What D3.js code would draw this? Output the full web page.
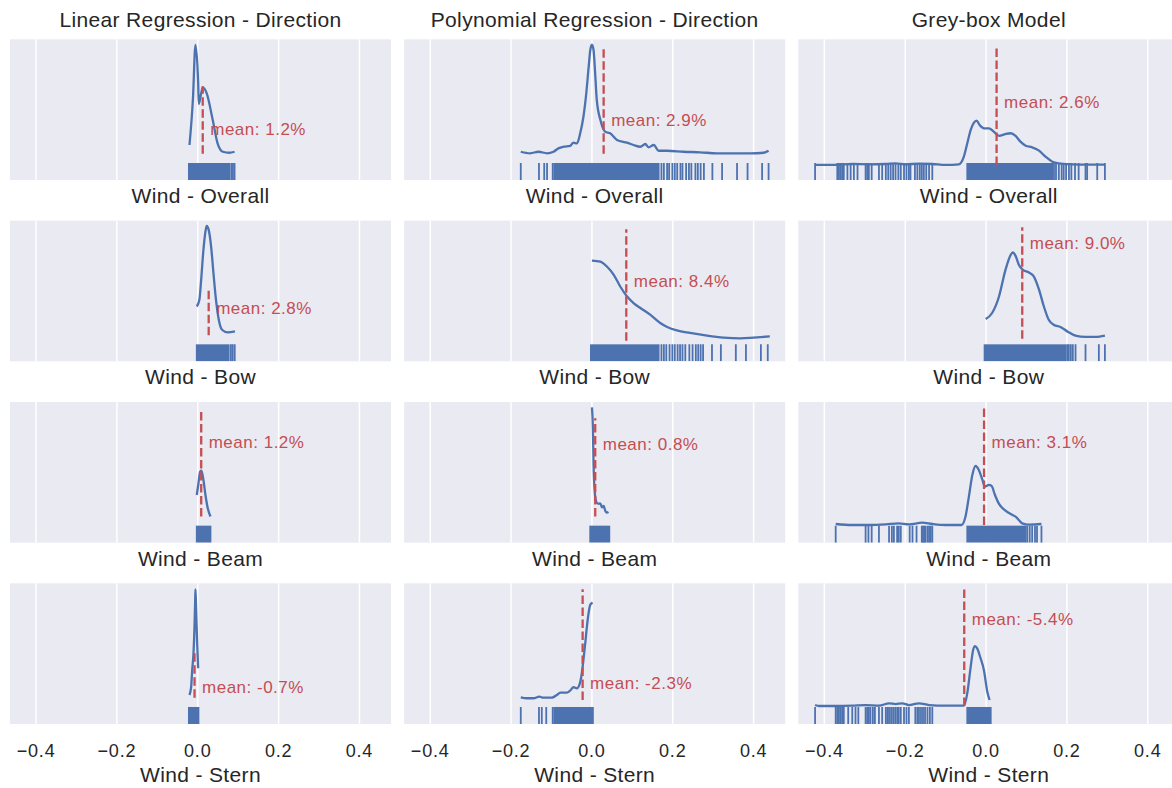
<!DOCTYPE html>
<html>
<head>
<meta charset="utf-8">
<script src="https://cdn.jsdelivr.net/npm/d3@7"></script>
<style>
body { margin: 0; background: #fff; }
text { font-family: Arial, "Liberation Sans", sans-serif; fill: #262626; }
</style>
</head>
<body>
<div id="chart"></div>
<script>
var svgWidth = 1172;
var svgHeight = 788;

var columnTitles = ["Linear Regression - Direction", "Polynomial Regression - Direction", "Grey-box Model"];
var rowLabels = ["Wind - Overall", "Wind - Bow", "Wind - Beam", "Wind - Stern"];
var tickValues = [-0.4, -0.2, 0, 0.2, 0.4];
var tickLabels = ["\u22120.4", "\u22120.2", "0.0", "0.2", "0.4"];
var xDomain = [-0.4645, 0.478];

// panels in row order: linear, polynomial, grey-box
var meanPos = [0.0123, 0.029, 0.026, 0.027, 0.085, 0.0895, 0.0085, 0.0082, -0.005, -0.008, -0.023, -0.054];
var meanTop = [0.62, 0.98, 1.10, 0.41, 1.025, 1.025, 0.99, 0.90, 1.07, 0.408, 1.016, 1.07];
var meanLabels = ["mean: 1.2%", "mean: 2.9%", "mean: 2.6%", "mean: 2.8%", "mean: 8.4%", "mean: 9.0%",
	"mean: 1.2%", "mean: 0.8%", "mean: 3.1%", "mean: -0.7%", "mean: -2.3%", "mean: -5.4%"];
var meanTextY = [0.23, 0.31, 0.58, 0.25, 0.553, 0.883, 0.686, 0.67, 0.764, 0.10, 0.159, 0.795];
var yLow = [-0.24, -0.24, -0.138, -0.24, -0.19, -0.208, -0.24, -0.24, -0.162, -0.24, -0.22, -0.165];
var yHigh = [1.05, 1.05, 1.153, 1.053, 1.104, 1.085, 1.05, 1.05, 1.128, 1.05, 1.07, 1.126];

// kde curves [error, density]
var kdeLinOverall = [[-0.0205,0.081],[-0.012,0.5],[-0.0057,0.998],[0.001,0.647],[0.0025,0.457],[0.0123,0.61],[0.0222,0.555],[0.037,0.31],[0.049,0.096],[0.062,0.019],[0.078,0.01],[0.091,0.019]];
var kdePolyOverall = [[-0.176,0.019],[-0.153,0.005],[-0.132,0.019],[-0.111,0.005],[-0.095,0.019],[-0.083,0.05],[-0.070,0.065],[-0.054,0.072],[-0.046,0.102],[-0.037,0.096],[-0.029,0.188],[-0.021,0.34],[-0.014,0.555],[-0.008,0.80],[-0.004,0.952],[0.0,1.0],[0.004,0.952],[0.008,0.738],[0.012,0.494],[0.021,0.31],[0.033,0.203],[0.045,0.188],[0.062,0.127],[0.087,0.102],[0.103,0.081],[0.120,0.065],[0.132,0.09],[0.140,0.06],[0.153,0.081],[0.165,0.028],[0.186,0.028],[0.227,0.019],[0.268,0.014],[0.309,0.005],[0.351,0.005],[0.392,0.005],[0.425,0.01],[0.437,0.028]];
var kdeGreyOverall = [[-0.423,0],[-0.372,0],[-0.331,0.009],[-0.29,0.006],[-0.248,0.009],[-0.224,0.015],[-0.199,0.006],[-0.166,0.012],[-0.133,0.009],[-0.100,0],[-0.067,0.006],[-0.055,0.076],[-0.0465,0.199],[-0.038,0.321],[-0.030,0.388],[-0.0235,0.407],[-0.016,0.367],[-0.005,0.336],[0.007,0.336],[0.019,0.306],[0.032,0.266],[0.048,0.284],[0.061,0.291],[0.073,0.266],[0.085,0.214],[0.098,0.177],[0.114,0.162],[0.131,0.131],[0.147,0.076],[0.164,0.030],[0.180,0.015],[0.213,0.006],[0.246,0.003],[0.294,0.003]];
var kdeLinBow = [[-0.0025,0.264],[0.004,0.326],[0.0084,0.509],[0.014,0.784],[0.019,0.952],[0.022,1.005],[0.027,0.968],[0.033,0.815],[0.0388,0.571],[0.045,0.326],[0.052,0.142],[0.060,0.05],[0.074,0.026],[0.092,0.035]];
var kdePolyBow = [[0.0,0.737],[0.021,0.728],[0.037,0.682],[0.054,0.606],[0.070,0.498],[0.087,0.406],[0.103,0.346],[0.120,0.300],[0.144,0.239],[0.169,0.162],[0.186,0.126],[0.210,0.094],[0.243,0.071],[0.285,0.046],[0.326,0.028],[0.367,0.021],[0.400,0.028],[0.440,0.039]];
var kdeGreyBow = [[-0.001,0.181],[0.015,0.236],[0.032,0.388],[0.048,0.633],[0.061,0.771],[0.066,0.792],[0.073,0.761],[0.081,0.679],[0.091,0.633],[0.106,0.608],[0.118,0.572],[0.131,0.450],[0.143,0.296],[0.155,0.174],[0.168,0.126],[0.184,0.107],[0.201,0.067],[0.221,0.028],[0.246,0.016],[0.271,0.016],[0.294,0.028]];
var kdeLinBeam = [[-0.0025,0.197],[0.0017,0.305],[0.0059,0.411],[0.0091,0.42],[0.014,0.335],[0.019,0.197],[0.0247,0.075],[0.0314,0.0]];
var kdePolyBeam = [[0.0,1.0],[0.0025,0.794],[0.004,0.488],[0.0066,0.243],[0.0107,0.136],[0.0165,0.115],[0.0206,0.121],[0.0247,0.084],[0.029,0.096],[0.033,0.053],[0.037,0.035],[0.041,0.041]];
var kdeGreyBeam = [[-0.372,0.009],[-0.331,0],[-0.29,0],[-0.248,0.006],[-0.216,0.015],[-0.191,0.006],[-0.158,0.021],[-0.133,0.009],[-0.100,0],[-0.061,0],[-0.051,0.076],[-0.0425,0.26],[-0.034,0.459],[-0.026,0.541],[-0.018,0.505],[-0.009,0.413],[-0.003,0.351],[0.007,0.367],[0.0136,0.358],[0.022,0.275],[0.032,0.193],[0.048,0.131],[0.065,0.092],[0.073,0.076],[0.081,0.046],[0.0895,0.015],[0.106,0.003],[0.137,0.009]];
var kdeLinStern = [[-0.0205,0.026],[-0.0163,0.102],[-0.0138,0.255],[-0.0106,0.408],[-0.0081,0.652],[-0.0064,0.897],[-0.0057,0.995],[-0.004,0.806],[-0.0015,0.50],[0.001,0.271]];
var kdePolyStern = [[-0.176,0.025],[-0.161,0.016],[-0.1445,0.016],[-0.130,0.03],[-0.120,0.021],[-0.099,0.021],[-0.087,0.046],[-0.078,0.067],[-0.062,0.067],[-0.054,0.085],[-0.0455,0.117],[-0.037,0.107],[-0.031,0.138],[-0.025,0.245],[-0.021,0.367],[-0.0165,0.52],[-0.0124,0.672],[-0.0083,0.795],[-0.0042,0.872],[0.0016,0.893]];
var kdeGreyStern = [[-0.423,0.009],[-0.413,0],[-0.372,0],[-0.331,0.003],[-0.298,0.009],[-0.265,0.003],[-0.240,0.025],[-0.224,0.018],[-0.207,0.025],[-0.191,0.009],[-0.166,0.025],[-0.141,0.009],[-0.100,0.003],[-0.055,0.003],[-0.0465,0.117],[-0.038,0.361],[-0.032,0.514],[-0.0276,0.55],[-0.022,0.529],[-0.0136,0.438],[-0.0054,0.33],[0.003,0.131],[0.0087,0.055]];

// rug: single observations, and ranges where the ticks merge into a solid block
var rugLinOverall = [0.083, 0.087, 0.091];
var bandLinOverall = [[-0.022, 0.078]];
var rugPolyOverall = [-0.176,-0.131,-0.118,-0.111,-0.097,-0.093,0.172,0.178,0.186,0.191,0.199,0.205,0.211,0.219,0.224,0.233,0.240,0.246,0.256,0.262,0.269,0.277,0.298,0.322,0.359,0.385,0.421,0.437];
var bandPolyOverall = [[-0.091, 0.165]];
var rugGreyOverall = [-0.423,-0.368,-0.364,-0.360,-0.356,-0.352,-0.343,-0.335,-0.327,-0.318,-0.298,-0.294,-0.290,-0.283,-0.265,-0.257,-0.248,-0.242,-0.236,-0.230,-0.224,-0.217,-0.211,-0.203,-0.197,-0.191,-0.187,-0.176,-0.170,-0.164,-0.159,-0.154,-0.148,-0.141,-0.133,0.168,0.173,0.180,0.187,0.192,0.198,0.205,0.211,0.220,0.229,0.246,0.250,0.275,0.294];
var bandGreyOverall = [[-0.0465, 0.164]];
var rugLinBow = [0.082, 0.0865, 0.0914];
var bandLinBow = [[-0.0025, 0.0765]];
var rugPolyBow = [0.172,0.178,0.184,0.192,0.199,0.205,0.212,0.218,0.224,0.231,0.241,0.249,0.257,0.263,0.269,0.275,0.297,0.319,0.356,0.381,0.418,0.435];
var bandPolyBow = [[-0.0025, 0.165]];
var rugGreyBow = [0.2007,0.2047,0.2097,0.2146,0.2213,0.246,0.279,0.294];
var bandGreyBow = [[-0.0037, 0.1965]];
var rugLinBeam = [];
var bandLinBeam = [[-0.0025, 0.0314]];
var rugPolyBeam = [];
var bandPolyBeam = [[-0.0042, 0.043]];
var rugGreyBeam = [-0.372,-0.298,-0.291,-0.283,-0.265,-0.240,-0.233,-0.228,-0.220,-0.216,-0.211,-0.189,-0.182,-0.172,-0.159,-0.156,-0.153,-0.150,-0.145,-0.141,-0.137,-0.133,0.102,0.108,0.114,0.121,0.126,0.137];
var bandGreyBeam = [[-0.0465, 0.098]];
var rugLinStern = [];
var bandLinStern = [[-0.022, 0.0017]];
var rugPolyStern = [-0.176,-0.131,-0.124,-0.113,-0.097,-0.093];
var bandPolyStern = [[-0.091, 0.0024]];
var rugGreyStern = [-0.423,-0.372,-0.368,-0.364,-0.360,-0.356,-0.352,-0.341,-0.331,-0.323,-0.316,-0.298,-0.294,-0.290,-0.286,-0.280,-0.275,-0.265,-0.257,-0.248,-0.244,-0.240,-0.235,-0.230,-0.225,-0.220,-0.216,-0.211,-0.203,-0.197,-0.191,-0.175,-0.170,-0.166,-0.161,-0.156,-0.151,-0.145,-0.139,-0.133];
var bandGreyStern = [[-0.0465, 0.0115]];

var curves = [kdeLinOverall, kdePolyOverall, kdeGreyOverall, kdeLinBow, kdePolyBow, kdeGreyBow,
	kdeLinBeam, kdePolyBeam, kdeGreyBeam, kdeLinStern, kdePolyStern, kdeGreyStern];
var rugs = [rugLinOverall, rugPolyOverall, rugGreyOverall, rugLinBow, rugPolyBow, rugGreyBow,
	rugLinBeam, rugPolyBeam, rugGreyBeam, rugLinStern, rugPolyStern, rugGreyStern];
var bands = [bandLinOverall, bandPolyOverall, bandGreyOverall, bandLinBow, bandPolyBow, bandGreyBow,
	bandLinBeam, bandPolyBeam, bandGreyBeam, bandLinStern, bandPolyStern, bandGreyStern];

var blue = "#4C72B0";
var red = "#C44E52";

var panelLeft = 10, panelTop = 39.3;
var panelWidth = 381, panelHeight = 140.7;
var colStep = 394.15, rowStep = 181.33;
var rugHeight = 17;

var svg = d3.select("#chart")
	.append("svg")
	.attr("width", svgWidth)
	.attr("height", svgHeight);

var x = d3.scaleLinear().domain(xDomain).range([0, panelWidth]);

var line = d3.line()
	.x(d => x(d[0]))
	.curve(d3.curveMonotoneX);

for (var i = 0; i < 12; i++) {
	var row = Math.floor(i / 3), col = i % 3;
	var g = svg.append("g")
		.attr("transform", `translate(${panelLeft + col * colStep}, ${panelTop + row * rowStep})`);

	var y = d3.scaleLinear().domain([yLow[i], yHigh[i]]).range([panelHeight, 0]);

	g.append("clipPath").attr("id", "clip" + i)
		.append("rect").attr("width", panelWidth).attr("height", panelHeight);

	g.append("rect")
		.attr("width", panelWidth)
		.attr("height", panelHeight)
		.attr("fill", "#EAEAF2");

	g.selectAll(".grid")
		.data(tickValues)
		.enter()
		.append("line")
		.attr("x1", d => x(d))
		.attr("x2", d => x(d))
		.attr("y1", 0)
		.attr("y2", panelHeight)
		.attr("stroke", "#fff")
		.attr("stroke-width", 1.5);

	var plot = g.append("g").attr("clip-path", `url(#clip${i})`);

	plot.selectAll(".band")
		.data(bands[i])
		.enter()
		.append("rect")
		.attr("x", d => x(d[0]) - 0.9)
		.attr("width", d => x(d[1]) - x(d[0]) + 1.8)
		.attr("y", panelHeight - rugHeight)
		.attr("height", rugHeight)
		.attr("fill", blue);

	plot.selectAll(".rug")
		.data(rugs[i])
		.enter()
		.append("line")
		.attr("x1", d => x(d))
		.attr("x2", d => x(d))
		.attr("y1", panelHeight - rugHeight)
		.attr("y2", panelHeight)
		.attr("stroke", blue)
		.attr("stroke-width", 1.8);

	line.y(d => y(d[1]));
	plot.append("path")
		.datum(curves[i])
		.attr("d", line)
		.attr("fill", "none")
		.attr("stroke", blue)
		.attr("stroke-width", 2.3)
		.attr("stroke-linejoin", "round");

	plot.append("line")
		.attr("x1", x(meanPos[i]))
		.attr("x2", x(meanPos[i]))
		.attr("y1", y(0))
		.attr("y2", y(meanTop[i]))
		.attr("stroke", red)
		.attr("stroke-width", 2.3)
		.attr("stroke-dasharray", "8.5,3.5");

	g.append("text")
		.attr("x", x(meanPos[i]) + 7.5)
		.attr("y", y(meanTextY[i]))
		.attr("dy", "0.36em")
		.style("font-size", "17px")
		.style("letter-spacing", "0.5px")
		.style("fill", red)
		.text(meanLabels[i]);

	if (row === 0) {
		g.append("text")
			.attr("x", panelWidth / 2)
			.attr("y", -12)
			.attr("text-anchor", "middle")
			.style("font-size", "21px")
			.style("letter-spacing", "0.35px")
			.text(columnTitles[col]);
	}

	if (row === 3) {
		g.selectAll(".tick")
			.data(tickValues)
			.enter()
			.append("text")
			.attr("x", d => x(d))
			.attr("y", panelHeight + 32.7)
			.attr("text-anchor", "middle")
			.style("font-size", "18px")
			.style("letter-spacing", "0.8px")
			.text((d, k) => tickLabels[k]);
	}

	g.append("text")
		.attr("x", panelWidth / 2)
		.attr("y", row === 3 ? panelHeight + 58 : panelHeight + 23)
		.attr("text-anchor", "middle")
		.style("font-size", "21px")
		.style("letter-spacing", "0.35px")
		.text(rowLabels[row]);
}
</script>
</body>
</html>
